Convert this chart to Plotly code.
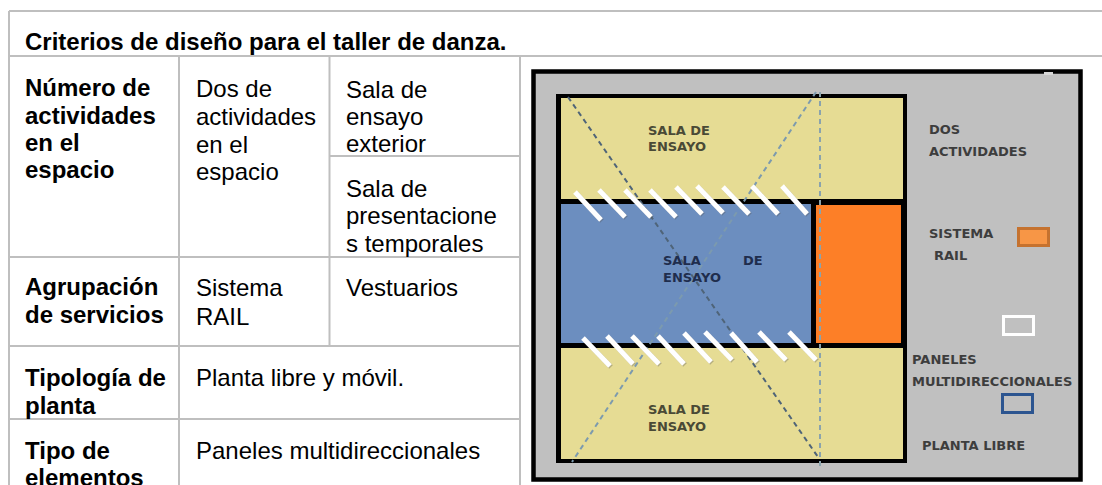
import plotly.graph_objects as go

# textos de la tabla
titulo = "Criterios de diseño para el taller de danza."
col_criterio = ["Número de", "actividades", "en el", "espacio", "Agrupación", "de servicios",
                "Tipología de", "planta", "Tipo de", "elementos"]
col_respuesta = ["Dos de", "actividades", "en el", "espacio", "Sistema", "RAIL",
                 "Planta libre y móvil.", "Paneles multidireccionales"]
col_detalle = ["Sala de", "ensayo", "exterior", "Sala de", "presentacione", "s temporales", "Vestuarios"]

# textos del plano
rotulos_sala = ["SALA DE", "ENSAYO", "SALA DE", "ENSAYO"]
rotulos_centro = ["SALA", "DE", "ENSAYO"]
rotulos_leyenda = ["DOS", "ACTIVIDADES", "SISTEMA", "RAIL", "PANELES", "MULTIDIRECCIONALES", "PLANTA LIBRE"]

# posicion vertical de cada renglon (px)
y_criterio = [87, 115, 142, 169, 286, 314, 377, 405, 450, 477]
y_respuesta = [88, 116, 144, 171, 287, 316, 377, 450]
y_detalle = [89, 116, 143, 188, 215, 243, 287]
y_sala = [130, 146, 409, 426]
xy_centro = [(661, 260), (741, 260), (661, 277)]
xy_leyenda = [(927, 129), (927, 151), (927, 233), (932, 255), (910, 359), (910, 381), (920, 445)]

# lineas de la tabla: (x0, y0, x1, y1)
lineas_tabla = [(9, 11, 1102, 11), (9, 56, 1102, 56), (9, 11, 9, 485), (179, 56, 179, 485),
                (329.5, 56, 329.5, 346), (520, 56, 520, 485), (329.5, 156, 520, 156),
                (9, 257, 520, 257), (9, 346, 520, 346), (9, 419, 520, 419)]

# lamas blancas: extremos en px del plano
lamas_sup = [(575, 192, 601, 220), (599, 190, 625, 217), (625, 190, 651, 217), (650, 190, 676, 217),
             (676, 187, 702, 214), (697, 186, 723, 213), (723, 187, 749, 214), (752, 186, 778, 214),
             (782, 186, 807, 214)]
lamas_inf = [(583, 338, 610, 366), (607, 336, 633, 364), (632, 336, 659, 364), (658, 336, 684, 364),
             (684, 333, 711, 362), (705, 332, 732, 360), (731, 333, 757, 362), (759, 332, 786, 360),
             (789, 332, 816, 360)]

AMARILLO = "#e6dc94"
AZUL = "#6c8ebf"
NARANJA = "#fd7f27"
GRIS = "#c0c0c0"
GRIS_TABLA = "#bfbfbf"

fig = go.Figure()
shapes = []


def rect(x0, y0, x1, y1, fill=None, line=None, w=0):
    shapes.append(dict(type="rect", x0=x0, y0=y0, x1=x1, y1=y1, fillcolor=fill or "rgba(0,0,0,0)",
                       line=dict(color=line or "rgba(0,0,0,0)", width=w)))


def linea(x0, y0, x1, y1, color, w, dash="solid"):
    shapes.append(dict(type="line", x0=x0, y0=y0, x1=x1, y1=y1, line=dict(color=color, width=w, dash=dash)))


for l in lineas_tabla:
    linea(*l, GRIS_TABLA, 2)

# plano
rect(533.5, 71.5, 1080.5, 479.5, GRIS, "#000000", 4.5)
rect(1044, 72, 1053, 75, "#d6d6d6")
rect(556, 94, 907, 463, "#000000")
rect(561, 98, 903, 199, AMARILLO)
rect(561, 204, 811, 343, AZUL)
rect(816, 205, 901, 343, NARANJA)
rect(561, 348, 903, 459, AMARILLO)

linea(568, 97, 818, 457, "#4f6478", 2, "5px,4px")
linea(816, 92, 572, 462, "#7c9aae", 2, "5px,4px")
linea(820, 92, 820, 467, "#8aa3ad", 2, "5px,4px")

for l in lamas_sup + lamas_inf:
    linea(l[0] + 1, l[1] + 1, l[2] + 1, l[3] + 1, "rgba(90,90,90,0.35)", 5)
    linea(*l, "#ffffff", 5)

rect(1018.5, 228.5, 1048.5, 245.5, "#f79646", "#c5722f", 3)
rect(1003.5, 316.5, 1033.5, 334.5, None, "#ffffff", 3)
rect(1002.5, 394.5, 1032.5, 412.5, None, "#2c5590", 3)

anots = []


def texto(t, x, y, size=24, bold=False, color="#000000", family="Liberation Sans"):
    anots.append(dict(text=f"<b>{t}</b>" if bold else t, x=x, y=y, xref="x", yref="y", showarrow=False,
                      xanchor="left", yanchor="middle", align="left",
                      font=dict(family=family, size=size, color=color)))


texto(titulo, 22.5, 41, bold=True)
for t, y in zip(col_criterio, y_criterio):
    texto(t, 22.5, y, bold=True)
for t, y in zip(col_respuesta, y_respuesta):
    texto(t, 193.5, y)
for t, y in zip(col_detalle, y_detalle):
    texto(t, 344, y)

PLANO = "DejaVu Sans"
for t, y in zip(rotulos_sala, y_sala):
    texto(t, 646, y, size=13, bold=True, color="#4a4a36", family=PLANO)
for t, (x, y) in zip(rotulos_centro, xy_centro):
    texto(t, x, y, size=13, bold=True, color="#1f2d4d", family=PLANO)
for t, (x, y) in zip(rotulos_leyenda, xy_leyenda):
    texto(t, x, y, size=13, bold=True, color="#3d3d3d", family=PLANO)

fig.update_layout(width=1102, height=485, margin=dict(l=0, r=0, t=0, b=0), showlegend=False,
                  plot_bgcolor="#ffffff", paper_bgcolor="#ffffff", shapes=shapes, annotations=anots,
                  xaxis=dict(range=[0, 1102], visible=False, fixedrange=True),
                  yaxis=dict(range=[485, 0], visible=False, fixedrange=True))

fig.write_html("out.html", config={"displayModeBar": False},
               post_script="document.body.style.margin='0';document.body.style.overflow='hidden';")
